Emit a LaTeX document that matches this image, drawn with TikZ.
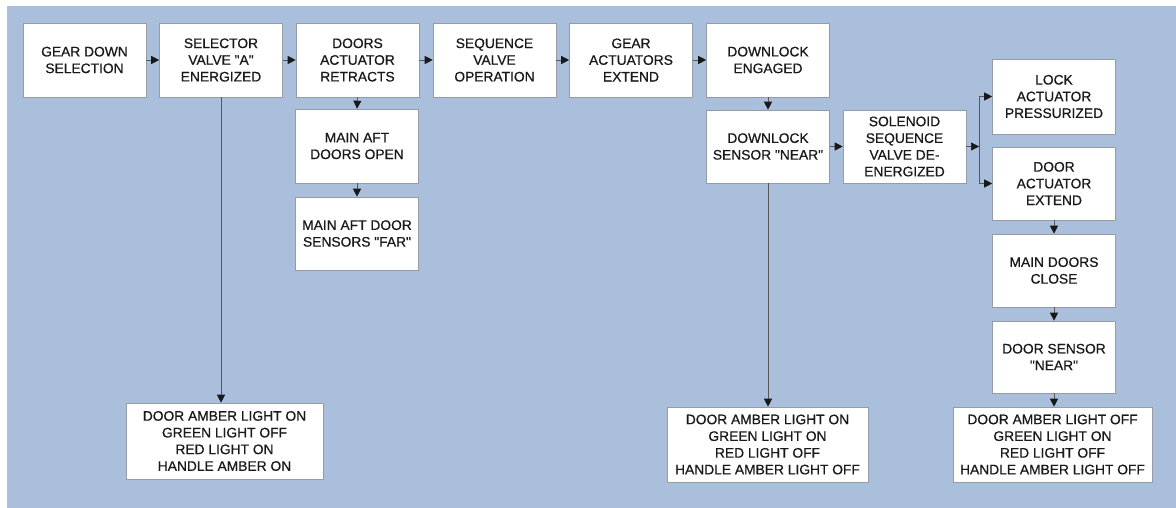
\documentclass[tikz,border=0pt]{standalone}
\usepackage{fontspec}
\setmainfont{Liberation Sans}
\newfontfamily\boxfont{Liberation Sans}[FakeBold=0.6]
\usetikzlibrary{arrows.meta}
\definecolor{bgblue}{RGB}{169,191,220}
\definecolor{boxline}{RGB}{150,155,165}
\definecolor{txt}{RGB}{25,25,25}
\begin{document}
\begin{tikzpicture}[x=1pt,y=-1pt,
  box/.style={draw=boxline,line width=0.6pt,fill=white,inner sep=0pt,align=center,
    text=txt,font=\boxfont\fontsize{13.8}{16.7}\selectfont,minimum width=123pt,minimum height=74pt},
  wide/.style={box,minimum width=199pt,minimum height=75pt},
  conn/.style={draw=black!65,line width=0.7pt,-{Triangle[length=8pt,width=8pt,color=black!90]}},
  plain/.style={draw=black!65,line width=0.7pt}]
\useasboundingbox (0,0) rectangle (1176,508);
\fill[white] (0,0) rectangle (1176,508);
\fill[bgblue] (7,6) rectangle (1176,508);
% top row
\node[box] (gds) at (84.5,60) {GEAR DOWN\\SELECTION};
\node[box] (sel) at (221,60) {SELECTOR\\VALVE "A"\\ENERGIZED};
\node[box] (dar) at (357.5,60) {DOORS\\ACTUATOR\\RETRACTS};
\node[box] (svo) at (494.5,60) {SEQUENCE\\VALVE\\OPERATION};
\node[box] (gae) at (631,60) {GEAR\\ACTUATORS\\EXTEND};
\node[box] (dle) at (768,60) {DOWNLOCK\\ENGAGED};
% column under doors actuator
\node[box] (mao) at (357,146) {MAIN AFT\\DOORS OPEN};
\node[box,minimum height=73pt] (mas) at (357,233.5) {MAIN AFT DOOR\\SENSORS "FAR"};
% downlock column
\node[box,minimum height=73pt] (dsn) at (768,146.5) {DOWNLOCK\\SENSOR "NEAR"};
\node[box,minimum height=73pt] (ssv) at (904.5,146.5) {SOLENOID\\SEQUENCE\\VALVE DE-\\ENERGIZED};
% right column
\node[box,minimum height=75pt] (lap) at (1054,96.5) {LOCK\\ACTUATOR\\PRESSURIZED};
\node[box,minimum height=73pt] (dae) at (1054,183.5) {DOOR\\ACTUATOR\\EXTEND};
\node[box,minimum height=73pt] (mdc) at (1054,270.5) {MAIN DOORS\\CLOSE};
\node[box,minimum height=72pt] (dsr) at (1054,357) {DOOR SENSOR\\"NEAR"};
% bottom status boxes
\node[wide,minimum width=197pt,minimum height=76pt] (lb) at (224.5,441) {DOOR AMBER LIGHT ON\\GREEN LIGHT OFF\\RED LIGHT ON\\HANDLE AMBER ON};
\node[wide,minimum width=201pt] (mb) at (767.5,444.5) {DOOR AMBER LIGHT ON\\GREEN LIGHT ON\\RED LIGHT OFF\\HANDLE AMBER LIGHT OFF};
\node[wide] (rb) at (1052.5,444.5) {DOOR AMBER LIGHT OFF\\GREEN LIGHT ON\\RED LIGHT OFF\\HANDLE AMBER LIGHT OFF};
% connectors
\draw[conn] (gds) -- (sel);
\draw[conn] (sel) -- (dar);
\draw[conn] (dar) -- (svo);
\draw[conn] (svo) -- (gae);
\draw[conn] (gae) -- (dle);
\draw[conn] (dar.south) -- (mao.north);
\draw[conn] (mao.south) -- (mas.north);
\draw[conn] (dle.south) -- (dsn.north);
\draw[conn] (dsn) -- (ssv);
\coordinate (bus) at (979,146.5);
\coordinate (bt) at (979,96.5);
\coordinate (bb) at (979,183.5);
\draw[conn] (ssv.east) -- (bus);
\draw[plain] (bt) -- (bb);
\draw[conn] (bt) -- (lap.west);
\draw[conn] (bb) -- (dae.west);
\draw[conn] (dae.south) -- (mdc.north);
\draw[conn] (mdc.south) -- (dsr.north);
\draw[conn] (dsr.south) -- (dsr.south |- rb.north);
\draw[conn] (sel.south) -- (sel.south |- lb.north);
\draw[conn] (dsn.south) -- (dsn.south |- mb.north);
\end{tikzpicture}
\end{document}
